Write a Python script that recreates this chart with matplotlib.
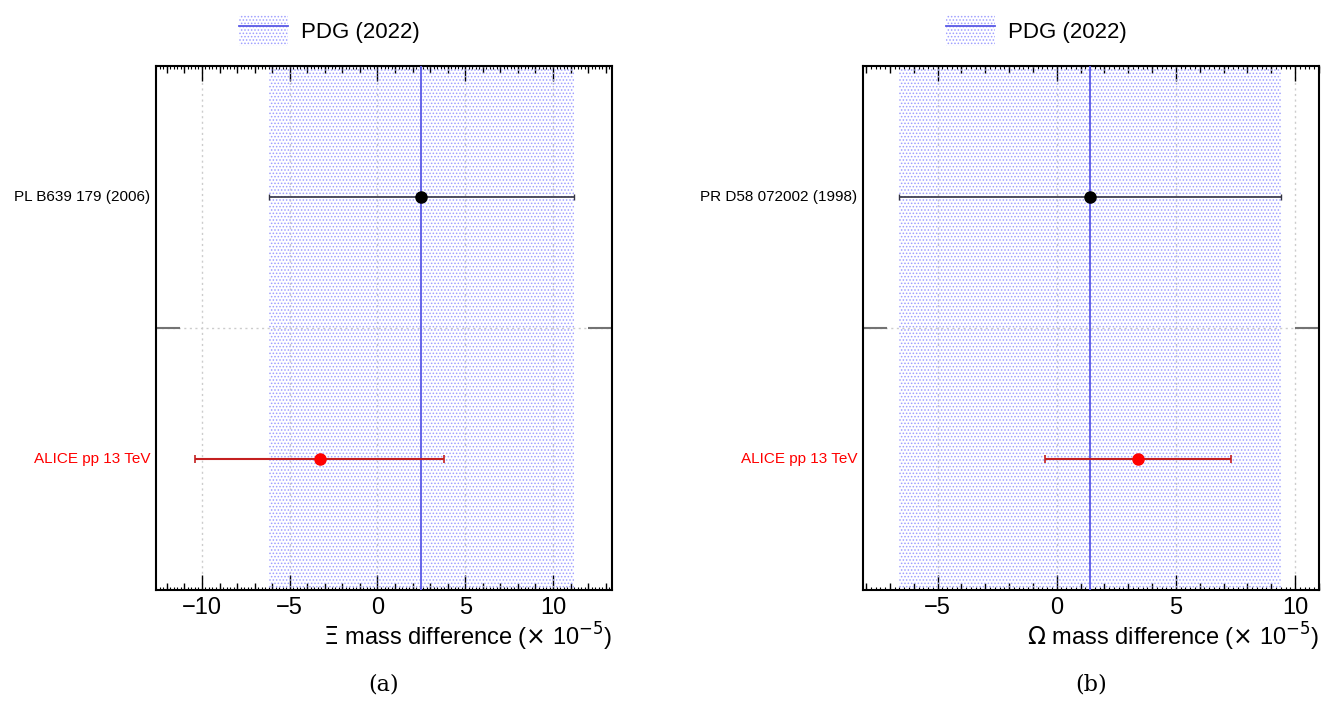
import numpy as np
import matplotlib.pyplot as plt
from matplotlib.ticker import MultipleLocator
from matplotlib.patches import Patch
from matplotlib.lines import Line2D

plt.rcParams['font.family'] = ['Liberation Sans', 'DejaVu Sans']
plt.rcParams['hatch.linewidth'] = 0.7

# measurements (x 10^-5), top to bottom
labels = ["PL B639 179 (2006)", "ALICE pp 13 TeV"]
xi_val = [2.5, -3.3]
xi_err = [8.7, 7.1]
xi_pdg = (2.5, 8.7)

labels_om = ["PR D58 072002 (1998)", "ALICE pp 13 TeV"]
om_val = [1.4, 3.4]
om_err = [8.0, 3.9]
om_pdg = (1.4, 8.0)

label_colors = ["black", "red"]
ypos = [1.5, 0.5]

band_col = (0.62, 0.62, 1.0)
line_col = (0.35, 0.35, 0.9)


def panel(ax, names, vals, errs, pdg, xlim, xlabel, caption):
    ax.set_xlim(*xlim)
    ax.set_ylim(0, 2)
    c, e = pdg
    ax.axvspan(c - e, c + e, facecolor='none', edgecolor=band_col,
               hatch='.....', linewidth=0, zorder=1)
    ax.axvline(c, color=line_col, lw=1.3, zorder=3)
    ax.grid(True, axis='both', color='0.8', ls=(0, (1.5, 2.5)), lw=1.0, zorder=0)
    ax.set_axisbelow(True)

    for y, v, er, col in zip(ypos, vals, errs, label_colors):
        if col == "red":
            ax.errorbar(v, y, xerr=er, fmt='o', color='red', ecolor='#c42020',
                        ms=8, elinewidth=1.5, capsize=3, capthick=1.2, zorder=5)
        else:
            ax.errorbar(v, y, xerr=er, fmt='o', color='black', ecolor='#333344',
                        ms=8, elinewidth=1.2, capsize=2, capthick=1, zorder=5)
    for y, n, col in zip(ypos, names, label_colors):
        ax.text(-0.012, y, n, transform=ax.get_yaxis_transform(), ha='right',
                va='center', fontsize=11, color=col)

    ax.set_yticks([1])
    ax.set_yticklabels([])
    ax.tick_params(axis='y', direction='in', length=17, width=1.5, color='0.45',
                   left=True, right=True)
    ax.xaxis.set_major_locator(MultipleLocator(5))
    ax.xaxis.set_minor_locator(MultipleLocator(1))
    ax.tick_params(axis='x', which='major', direction='in', length=11, width=1,
                   top=True, labelsize=17, pad=5)
    ax.tick_params(axis='x', which='minor', direction='in', length=5, width=1,
                   top=True)
    for side in ('top', 'bottom'):
        sec = ax.secondary_xaxis(side)
        sec.xaxis.set_major_locator(MultipleLocator(0.2))
        sec.tick_params(direction='in', length=2, width=0.8, labelbottom=False,
                        labeltop=False)
        sec.spines[side].set_visible(False)
    for s in ax.spines.values():
        s.set_linewidth(1.5)
    ax.set_xlabel(xlabel, fontsize=17, loc='right', labelpad=1)
    ax.text(0.5, -0.16, caption, transform=ax.transAxes, ha='center', va='top',
            fontsize=16, family='DejaVu Serif')

    handles = [(Patch(facecolor='none', edgecolor=band_col, hatch='.....', lw=0),
                Line2D([], [], color=line_col, lw=1.3))]
    ax.legend(handles, ['PDG (2022)'], loc='lower center',
              bbox_to_anchor=(0.38, 1.0), frameon=False, fontsize=16,
              handlelength=2.2, handleheight=1.8, handletextpad=0.6)


fig = plt.figure(figsize=(13.33, 7.02), dpi=100)
ax1 = fig.add_axes([0.117, 0.1595, 0.342, 0.746])
ax2 = fig.add_axes([0.6474, 0.1595, 0.342, 0.746])

panel(ax1, labels, xi_val, xi_err, xi_pdg, (-12.62, 13.35),
      r'$\Xi$ mass difference ($\times$ 10$^{-5}$)', '(a)')
panel(ax2, labels_om, om_val, om_err, om_pdg, (-8.13, 11.0),
      r'$\Omega$ mass difference ($\times$ 10$^{-5}$)', '(b)')

fig.savefig('out.png', dpi=100)
